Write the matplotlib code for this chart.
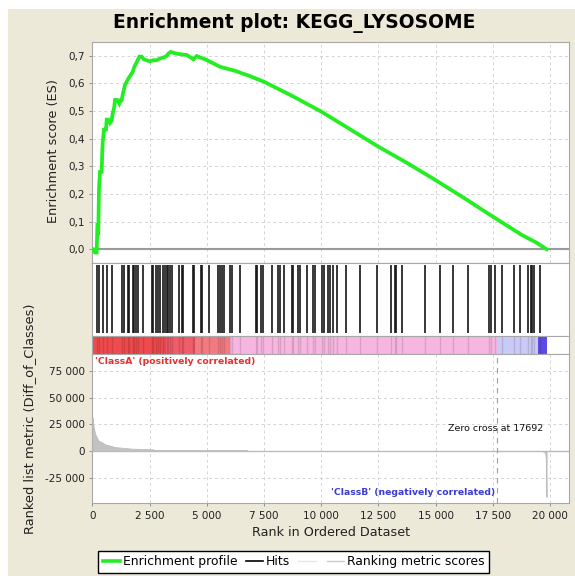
import matplotlib
matplotlib.use("Agg")
import matplotlib.pyplot as plt
from matplotlib.patches import Rectangle
from matplotlib.lines import Line2D
from matplotlib.ticker import FuncFormatter

plt.rcParams['font.family'] = ['DejaVu Sans']

# ---------------- data ----------------
title = "Enrichment plot: KEGG_LYSOSOME"
n_genes = 19850
zero_cross = 17692

es_rank = [0, 35, 109, 182, 211, 255, 270, 284, 328, 401, 420, 445, 503, 590, 620, 693,
           765, 838, 882, 955, 984, 1086, 1173, 1232, 1275, 1348, 1421, 1494, 1567, 1669,
           1756, 1829, 1902, 1975, 2048, 2150, 2252, 2368, 2514, 2660, 2805, 2951, 3097,
           3242, 3315, 3417, 3534, 3680, 3898, 4117, 4292, 4409, 4555, 4700, 4936, 5580,
           6220, 6865, 7500, 8794, 10000, 11206, 12500, 13778, 15000, 16270, 17500, 18762,
           19405, 19850]
es_value = [0.0, 0.0, -0.012, -0.012, 0.076, 0.07, 0.148, 0.22, 0.28, 0.28, 0.334, 0.385,
            0.433, 0.433, 0.469, 0.469, 0.457, 0.466, 0.49, 0.517, 0.54, 0.54, 0.527, 0.539,
            0.539, 0.57, 0.594, 0.606, 0.618, 0.63, 0.642, 0.66, 0.672, 0.684, 0.697, 0.697,
            0.687, 0.684, 0.68, 0.684, 0.684, 0.69, 0.694, 0.699, 0.708, 0.714, 0.711, 0.708,
            0.705, 0.703, 0.694, 0.687, 0.699, 0.694, 0.687, 0.66, 0.646, 0.627, 0.606,
            0.552, 0.498, 0.437, 0.371, 0.311, 0.25, 0.184, 0.118, 0.052, 0.024, 0.0]

hit_ranks = [210, 284, 472, 621, 866, 1303, 1390, 1539, 1609, 1757, 1827, 1889, 2002, 2221,
             2588, 2658, 2776, 2850, 2951, 3095, 3169, 3244, 3314, 3388, 3488, 3794, 3899,
             3969, 4380, 4450, 4730, 4800, 5093, 5473, 5574, 5648, 5762, 6011, 6085, 6448,
             7134, 7204, 7353, 7440, 7834, 8096, 8197, 8385, 8708, 8778, 8997, 9071, 9364,
             9653, 9727, 10046, 10133, 10308, 10383, 10527, 10702, 11082, 11694, 12424,
             13049, 13224, 13268, 13517, 14536, 15191, 15773, 16429, 17333, 17407, 17596,
             17888, 18439, 18689, 19051, 19156, 19226, 19313, 19563]

metric_rank = [0, 30, 110, 250, 550, 980, 1710, 2660, 2700, 6760, 6780, 19640, 19760,
               19800, 19820, 19840, 19850]
metric_value = [31300, 25000, 16300, 10000, 6300, 3700, 2200, 1600, 900, 900, 0, 0, -1000,
                -3000, -8000, -43000, -43000]

band_edges = [0, 3150, 4470, 6011, 17692, 19475, 19850]
band_colors = ['#ef4a4d', '#f05c68', '#f27a80', '#f6b6e0', '#cacaf6', '#5b4be4']

es_yticks = [0.0, 0.1, 0.2, 0.3, 0.4, 0.5, 0.6, 0.7]
metric_yticks = [-25000, 0, 25000, 50000, 75000]
x_ticks = [0, 2500, 5000, 7500, 10000, 12500, 15000, 17500, 20000]

# ---------------- figure ----------------
W, H = 575, 576
fig = plt.figure(figsize=(W / 100, H / 100), dpi=100, facecolor='white')
fig.add_artist(Rectangle((8 / W, 0), 1, 1 - 9 / H, transform=fig.transFigure,
                         facecolor='#ECE9D8', edgecolor='none', zorder=-10))


def px_axes(l, t, r, b):
    return fig.add_axes([l / W, 1 - b / H, (r - l) / W, (b - t) / H])


L, R = 92.5, 569.3
XMAX = (R - L) / 0.022875
ax_es = px_axes(L, 41.7, R, 262.5)
ax_hit = px_axes(L, 262.5, R, 335.7)
ax_bar = px_axes(L, 335.7, R, 354.3)
ax_met = px_axes(L, 354.3, R, 503.3)

spine_col = '#a8a8a8'
grid_kw = dict(color='#d4d4d4', linestyle=(0, (3, 3)), linewidth=0.7)
tick_fs = 7.5

for ax in (ax_es, ax_hit, ax_bar, ax_met):
    ax.set_xlim(0, XMAX)
    ax.set_facecolor('white')
    for s in ax.spines.values():
        s.set_color(spine_col)
        s.set_linewidth(0.8)
    ax.tick_params(colors='#808080', labelcolor='#222222', length=2, width=0.6,
                   labelsize=tick_fs)
    ax.set_xticks(x_ticks)

# ES panel
ax_es.set_ylim(-0.048, 0.751)
ax_es.set_yticks(es_yticks)
ax_es.yaxis.set_major_formatter(FuncFormatter(lambda v, p: f"{v:.1f}".replace('.', ',')))
ax_es.tick_params(axis='x', labelbottom=False, length=0)
ax_es.grid(True, **grid_kw)
ax_es.set_axisbelow(True)
ax_es.axhline(0, color='#9a9a9a', linewidth=1.5, zorder=2)
ax_es.plot(es_rank, es_value, color='#22ee22', linewidth=2.7, solid_joinstyle='miter', zorder=3)

# hits panel
ax_hit.set_ylim(0, 1)
ax_hit.set_yticks([])
ax_hit.tick_params(axis='x', labelbottom=False, length=0)
ax_hit.vlines(hit_ranks, 0.04, 0.96, color='#151515', linewidth=1.2)

# color band
ax_bar.set_ylim(0, 1)
ax_bar.set_yticks([])
ax_bar.tick_params(axis='x', labelbottom=False, length=0)
for i, c in enumerate(band_colors):
    ax_bar.axvspan(band_edges[i], band_edges[i + 1], color=c, linewidth=0)
ax_bar.vlines(hit_ranks, 0, 1, color='#000000', alpha=0.12, linewidth=1.0)

# metric panel
ax_met.set_ylim(-49000, 90650)
ax_met.set_yticks(metric_yticks)
ax_met.yaxis.set_major_formatter(FuncFormatter(lambda v, p: f"{v:,.0f}".replace(',', ' ')))
ax_met.xaxis.set_major_formatter(FuncFormatter(lambda v, p: f"{v:,.0f}".replace(',', ' ')))
ax_met.grid(True, **grid_kw)
ax_met.set_axisbelow(True)
ax_met.axhline(0, color='#b8b8b8', linewidth=1.0, zorder=2)
ax_met.fill_between(metric_rank, 0, metric_value, color='#c2c2c2', linewidth=0.6,
                    edgecolor='#bcbcbc', zorder=3)
ax_met.axvline(zero_cross, color='#a0a0a0', linestyle=(0, (5, 4)), linewidth=0.8, zorder=4)
ax_met.text(0.005, 0.955, "'ClassA' (positively correlated)", transform=ax_met.transAxes,
            color='#e53030', fontsize=6.7, fontweight='bold', ha='left', va='center')
ax_met.text(0.844, 0.071, "'ClassB' (negatively correlated)", transform=ax_met.transAxes,
            color='#3a3ad6', fontsize=6.7, fontweight='bold', ha='right', va='center')
ax_met.text(0.945, 0.499, f"Zero cross at {zero_cross}", transform=ax_met.transAxes,
            color='#111111', fontsize=6.8, ha='right', va='center')
ax_met.set_xlabel("Rank in Ordered Dataset", fontsize=9.2, color='#222222', labelpad=4)

# labels and title
fig.text(293.8 / W, 1 - 23.3 / H, title, ha='center', va='center', fontsize=13.4,
         fontweight='bold', color='black')
fig.text(54 / W, 1 - 151 / H, "Enrichment score (ES)", rotation=90, ha='center', va='center',
         fontsize=9.3, color='#222222')
fig.text(29.3 / W, 1 - 419 / H, "Ranked list metric (Diff_of_Classes)", rotation=90,
         ha='center', va='center', fontsize=9.4, color='#222222')

# legend
handles = [Line2D([], [], color='#22ee22', linewidth=2.6),
           Line2D([], [], color='black', linewidth=1.2),
           Line2D([], [], color='#e6e6e6', linewidth=1.0),
           Line2D([], [], color='#cccccc', linewidth=1.0)]
labels = ["Enrichment profile", "Hits", "", "Ranking metric scores"]
leg = fig.legend(handles, labels, loc='upper left', bbox_to_anchor=(98.3 / W, 1 - 551 / H),
                 ncol=4, fontsize=8.9, frameon=True, fancybox=False, framealpha=1,
                 edgecolor='black', facecolor='white', handlelength=1.4,
                 handletextpad=0.25, columnspacing=0.65, borderpad=0.35, borderaxespad=0)
leg.get_frame().set_linewidth(1.0)

fig.savefig("out.png", dpi=100, facecolor=fig.get_facecolor())
